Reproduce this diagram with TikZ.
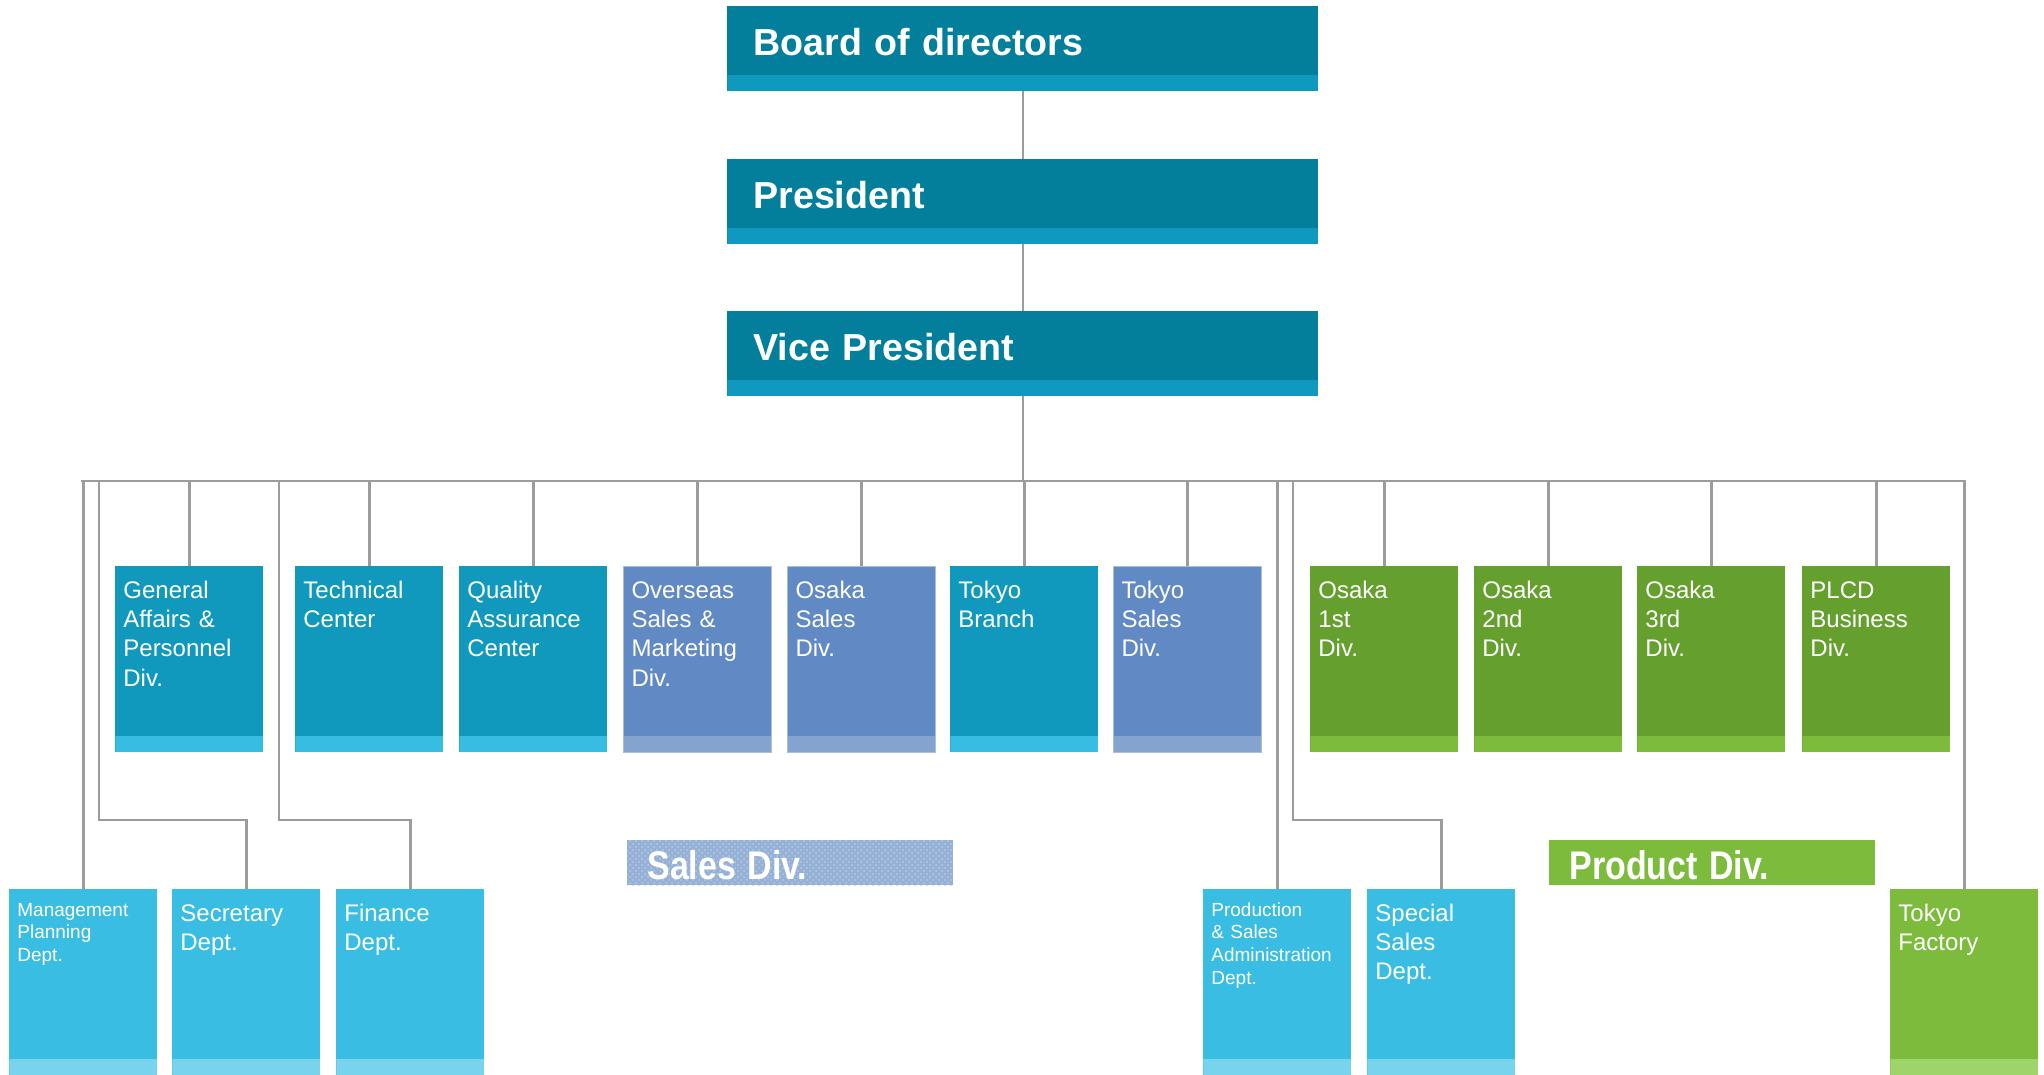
\documentclass[tikz,border=0pt]{standalone}
\usepackage{fontspec}
\setmainfont{Liberation Sans}
\usepackage{graphicx}
\usetikzlibrary{patterns, backgrounds}

\definecolor{boardteal}{HTML}{037F9C}
\definecolor{boardstrip}{HTML}{1099BF}
\definecolor{teal}{HTML}{1199BD}
\definecolor{tealstrip}{HTML}{38BDE2}
\definecolor{slate}{HTML}{6189C3}
\definecolor{slatestrip}{HTML}{84A3CF}
\definecolor{leaf}{HTML}{65A02E}
\definecolor{leafstrip}{HTML}{7CBB3C}
\definecolor{sky}{HTML}{3ABDE2}
\definecolor{skystrip}{HTML}{78D3EC}
\definecolor{lime}{HTML}{7CBB3C}
\definecolor{limestrip}{HTML}{9ED46A}
\definecolor{wire}{HTML}{9C9C9C}

\tikzset{
	unit/.style 2 args = {rectangle, anchor = north west, inner ysep = 0pt, fill = #1, text = white, align = left,
		path picture = {\fill [#2] (path picture bounding box.south west) rectangle ([yshift = 8.3pt] path picture bounding box.south east);}},
	topbox/.style = {unit = {boardteal}{boardstrip}, inner xsep = 13pt, text width = 269.5pt,
		text height = 24.5pt, text depth = 18pt, font = \bfseries\fontsize{18.8}{23}\selectfont},
	divbox/.style = {inner xsep = 4pt, text width = 65.75pt, text height = 16pt, text depth = 77pt,
		font = \fontsize{12}{14.6}\selectfont},
	tealbox/.style = {unit = {teal}{tealstrip}, divbox},
	slatebox/.style = {unit = {slate}{slatestrip}, divbox, draw = slatestrip!70!white, line width = 0.5pt},
	leafbox/.style = {unit = {leaf}{leafstrip}, divbox},
	skybox/.style = {unit = {sky}{skystrip}, divbox},
	limebox/.style = {unit = {lime}{limestrip}, divbox},
	skyfine/.style = {skybox, font = \fontsize{9.5}{11.4}\selectfont, text height = 13.3pt, text depth = 79.7pt},
	tag/.style = {rectangle, anchor = north west, inner xsep = 10pt, inner ysep = 0pt, text width = 143pt, align = left,
		text = white, text height = 19.5pt, text depth = 3pt, font = \bfseries\fontsize{20}{24}\selectfont},
	link/.style = {draw = wire, line width = 1.4pt, line cap = rect}
}

\begin{document}
\begin{tikzpicture}[x = 0.5pt, y = -0.5pt]

	\useasboundingbox (0, 0) rectangle (2044, 1075);

	% Top management

	\node [topbox] (board) at (727, 6) {Board of directors};
	\node [topbox] (pres) at (727, 159) {President};
	\node [topbox] (vp) at (727, 311) {Vice President};

	% Divisions

	\foreach \n/\x/\s/\t in {gen/115/tealbox/{General\\Affairs \&\\Personnel\\Div.},
		tech/295/tealbox/{Technical\\Center},
		qa/459/tealbox/{Quality\\Assurance\\Center},
		ovs/623/slatebox/{Overseas\\Sales \&\\Marketing\\Div.},
		osk/787/slatebox/{Osaka\\Sales\\Div.},
		tkb/950/tealbox/{Tokyo\\Branch},
		tks/1113/slatebox/{Tokyo\\Sales\\Div.},
		os1/1310/leafbox/{Osaka\\1st\\Div.},
		os2/1474/leafbox/{Osaka\\2nd\\Div.},
		os3/1637/leafbox/{Osaka\\3rd\\Div.},
		plcd/1802/leafbox/{PLCD\\Business\\Div.}}
		\node [\s] (\n) at (\x, 566) {\t};

	% Departments

	\foreach \n/\x/\s/\t in {mgmt/9/skyfine/{Management\\Planning\\Dept.},
		sec/172/skybox/{Secretary\\Dept.},
		fin/336/skybox/{Finance\\Dept.},
		prod/1203/skyfine/{Production\\\& Sales\\Administration\\Dept.},
		spec/1367/skybox/{Special\\Sales\\Dept.},
		fac/1890/limebox/{Tokyo\\Factory}}
		\node [\s] (\n) at (\x, 889) {\t};

	% Group tags

	\node [tag, preaction = {fill = slatestrip!85!white}, pattern = crosshatch dots, pattern color = slate!45!white]
		(salesdiv) at (627, 840) {\scalebox{0.85}[1]{Sales Div.}};
	\node [tag, fill = lime] (proddiv) at (1549, 840) {\scalebox{0.85}[1]{Product Div.}};

	% Connectors

	\coordinate (busL) at (82.5, 481);
	\coordinate (busR) at (1963.5, 481);
	\coordinate (elbow) at (0, 820);
	\coordinate (secTap) at (99, 481);
	\coordinate (finTap) at (279, 481);
	\coordinate (specTap) at (1293, 481);

	\begin{scope}[on background layer]
		\draw [link] (board) -- (pres);
		\draw [link] (pres) -- (vp);
		\draw [link] (vp) -- (vp |- busL);
		\draw [link] (busL) -- (busR);

		\foreach \n in {gen, tech, qa, ovs, osk, tkb, tks, os1, os2, os3, plcd, mgmt, prod, fac}
			\draw [link] (\n.north) -- (\n.north |- busL);

		\foreach \t/\n in {secTap/sec, finTap/fin, specTap/spec}
			\draw [link] (\t) -- (\t |- elbow) -| (\n.north);
	\end{scope}

\end{tikzpicture}
\end{document}
